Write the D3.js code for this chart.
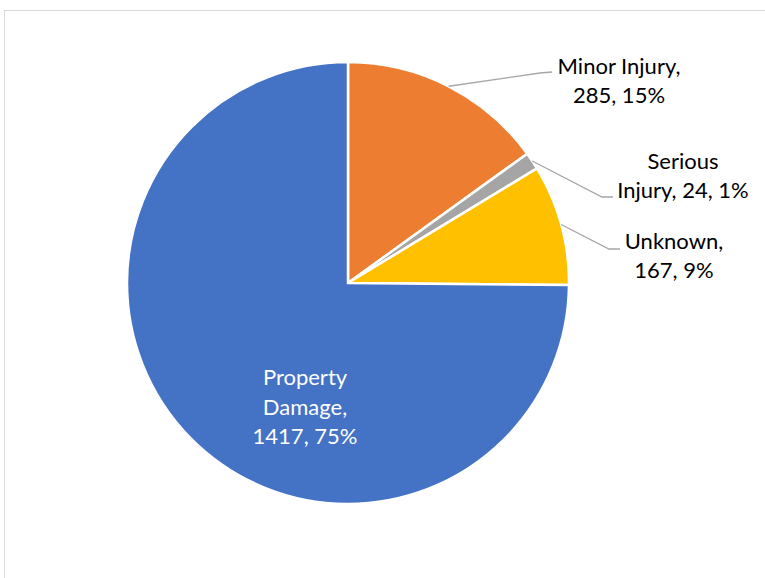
<!DOCTYPE html>
<html>
<head>
<meta charset="utf-8">
<script src="https://d3js.org/d3.v7.min.js"></script>
<style>
  body { margin: 0; background: #fff; }
  text { font-family: Lato, "Open Sans", sans-serif; }
</style>
</head>
<body>
<div id="my_dataviz"></div>
<script>

// data
var categories = ["Minor Injury", "Serious Injury", "Unknown", "Property Damage"];
var counts = [285, 24, 167, 1417];
var percents = ["15%", "1%", "9%", "75%"];
var colors = ["#ED7D31", "#A5A5A5", "#FFC000", "#4472C4"];

// label text lines (how the labels wrap in the original)
var labelLines = [
  ["Minor Injury,", "285, 15%"],
  ["Serious", "Injury, 24, 1%"],
  ["Unknown,", "167, 9%"],
  ["Property", "Damage,", "1417, 75%"]
];

var width = 765, height = 578;
var cx = 348, cy = 283, radius = 221;

var svg = d3.select("#my_dataviz")
  .append("svg")
    .attr("width", width)
    .attr("height", height);

// chart area frame
svg.append("rect")
  .attr("x", 4.5)
  .attr("y", 10.5)
  .attr("width", 800)
  .attr("height", 600)
  .attr("fill", "#fff")
  .attr("stroke", "#D9D9D9")
  .attr("stroke-width", 1);

var g = svg.append("g")
  .attr("transform", "translate(" + cx + "," + cy + ")");

var data = categories.map(function(c, i) {
  return { name: c, value: counts[i], pct: percents[i], color: colors[i], lines: labelLines[i] };
});

var pie = d3.pie()
  .sort(null)
  .value(function(d) { return d.value; });

var arc = d3.arc()
  .innerRadius(0)
  .outerRadius(radius);

var arcs = pie(data);

g.selectAll("path.slice")
  .data(arcs)
  .enter()
  .append("path")
    .attr("class", "slice")
    .attr("d", arc)
    .attr("fill", function(d) { return d.data.color; })
    .attr("stroke", "#fff")
    .attr("stroke-width", 2.5)
    .attr("stroke-linejoin", "miter");

// outside label placement (center of the text block, relative to pie center)
var outside = {
  "Minor Injury":   { x: 271, y: -202, elbow: [192, -210], end: [204, -211] },
  "Serious Injury": { x: 335, y: -107, elbow: [254, -86],  end: [265, -86] },
  "Unknown":        { x: 326, y: -27,  elbow: [261, -34],  end: [272, -34] }
};
var lineH = 29.5;

var pointOnEdge = function(d) {
  var a = (d.startAngle + d.endAngle) / 2;
  return [Math.sin(a) * radius, -Math.cos(a) * radius];
};

// leader lines
g.selectAll("polyline.leader")
  .data(arcs.filter(function(d) { return outside[d.data.name]; }))
  .enter()
  .append("polyline")
    .attr("class", "leader")
    .attr("points", function(d) {
      var o = outside[d.data.name];
      return [pointOnEdge(d), o.elbow, o.end].map(function(p) { return p.join(","); }).join(" ");
    })
    .attr("fill", "none")
    .attr("stroke", "#A6A6A6")
    .attr("stroke-width", 1.3);

// labels
arcs.forEach(function(d) {
  var o = outside[d.data.name];
  var pos, fill;
  if (o) {
    pos = [o.x, o.y];
    fill = "#000";
  } else {
    pos = [-43, 124];
    fill = "#fff";
  }
  var n = d.data.lines.length;
  var t = g.append("text")
    .attr("text-anchor", "middle")
    .attr("font-size", "22px")
    .attr("fill", fill);
  d.data.lines.forEach(function(line, i) {
    t.append("tspan")
      .attr("x", pos[0])
      .attr("y", pos[1] + (i - (n - 1) / 2) * lineH)
      .attr("dy", "0.35em")
      .text(line);
  });
});

</script>
</body>
</html>
